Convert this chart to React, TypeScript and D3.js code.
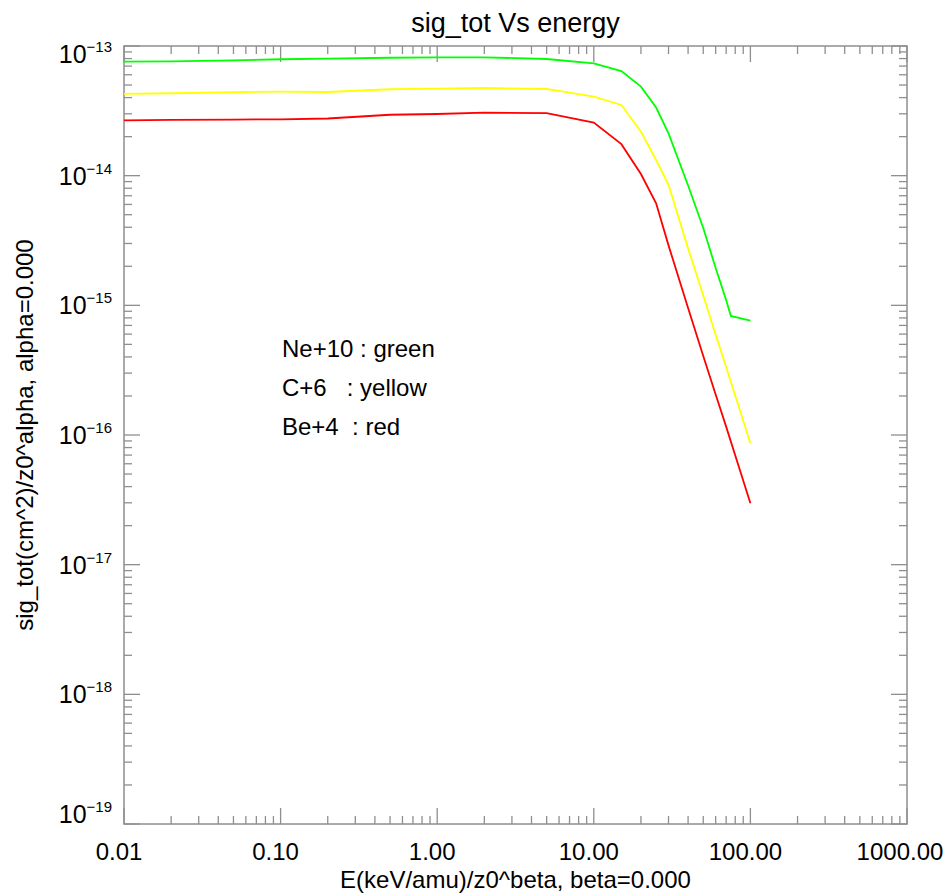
import React from "react";
import * as d3 from "d3";

// energies (keV/amu) and sig_tot (cm^2) for each ion
const energyNe = [0.01, 0.02, 0.05, 0.1, 0.2, 0.5, 1, 2, 5, 10, 15, 20, 25, 30, 40, 50, 60, 70, 75, 100];
const sigNe = [7.57e-14, 7.6e-14, 7.75e-14, 7.9e-14, 7.98e-14, 8.12e-14, 8.18e-14, 8.18e-14, 7.94e-14, 7.35e-14,
    6.41e-14, 4.86e-14, 3.35e-14, 2.12e-14, 8.4e-15, 3.95e-15, 1.94e-15, 1.1e-15, 8.28e-16, 7.62e-16];

const energyC = [0.01, 0.02, 0.05, 0.1, 0.2, 0.5, 1, 2, 5, 6, 10, 15, 20, 25, 30, 40, 50, 60, 70, 100];
const sigC = [4.27e-14, 4.32e-14, 4.4e-14, 4.45e-14, 4.42e-14, 4.64e-14, 4.69e-14, 4.75e-14, 4.66e-14, 4.5e-14,
    4.07e-14, 3.51e-14, 2.18e-14, 1.32e-14, 8.5e-15, 2.75e-15, 1.19e-15, 5.94e-16, 3.35e-16, 8.65e-17];

const energyBe = [0.01, 0.02, 0.05, 0.1, 0.2, 0.5, 1, 2, 5, 10, 15, 20, 25, 30, 40, 50, 60, 70, 100];
const sigBe = [2.67e-14, 2.69e-14, 2.71e-14, 2.72e-14, 2.76e-14, 2.95e-14, 2.99e-14, 3.06e-14, 3.04e-14, 2.57e-14,
    1.75e-14, 1.03e-14, 6.12e-15, 2.9e-15, 9.55e-16, 4.07e-16, 2.05e-16, 1.16e-16, 2.98e-17];

const xTickLabels = ["0.01", "0.10", "1.00", "10.00", "100.00", "1000.00"];
const legendLines = ["Ne+10 : green", "C+6   : yellow", "Be+4  : red"];

const series = [
    { x: energyNe, y: sigNe, color: "#00ff00" },
    { x: energyC, y: sigC, color: "#ffff00" },
    { x: energyBe, y: sigBe, color: "#ff0000" },
];

const W = 951;
const H = 895;
const left = 124, right = 907, top = 46, bottom = 824;
const font = "'Liberation Sans', Arial, sans-serif";
const axisColor = "#8f8f8f";

const App = () => {
    const x = d3.scaleLog().domain([0.01, 1000]).range([left, right]);
    const y = d3.scaleLog().domain([1e-19, 1e-13]).range([bottom, top]);

    const isMajor = (v: number) => Math.abs(Math.log10(v) - Math.round(Math.log10(v))) < 1e-9;
    const xTicks = x.ticks();
    const yTicks = y.ticks();

    const line = d3.line<[number, number]>()
        .x((d) => x(d[0]))
        .y((d) => y(d[1]));

    const xMajors = xTicks.filter(isMajor);
    const yMajors = yTicks.filter(isMajor);

    return (
        <svg width={W} height={H} style={{ position: "absolute", left: 0, top: 0, background: "#fff" }}
            fontFamily={font}>
            <rect x={0} y={0} width={W} height={H} fill="#fff" />
            <text x={(left + right) / 2} y={32} textAnchor="middle" fontSize={27} fill="#000">sig_tot Vs energy</text>

            {/* frame */}
            <rect x={left} y={top} width={right - left} height={bottom - top} fill="none"
                stroke={axisColor} strokeWidth={1.5} />

            {/* x ticks, bottom and top */}
            {xTicks.map((t, i) => {
                const len = isMajor(t) ? 16 : 8;
                return (
                    <g key={"xt" + i} stroke={axisColor} strokeWidth={1.3}>
                        <line x1={x(t)} x2={x(t)} y1={bottom} y2={bottom - len} />
                        <line x1={x(t)} x2={x(t)} y1={top} y2={top + len} />
                    </g>
                );
            })}
            {/* y ticks, left and right */}
            {yTicks.map((t, i) => {
                const len = isMajor(t) ? 16 : 8;
                return (
                    <g key={"yt" + i} stroke={axisColor} strokeWidth={1.3}>
                        <line x1={left} x2={left + len} y1={y(t)} y2={y(t)} />
                        <line x1={right} x2={right - len} y1={y(t)} y2={y(t)} />
                    </g>
                );
            })}

            {xMajors.map((t, i) => (
                <text key={"xl" + i} x={x(t) - (i === xMajors.length - 1 ? 7 : 5)} y={860}
                    textAnchor="middle" fontSize={24} fill="#000">
                    {xTickLabels[i]}
                </text>
            ))}

            {yMajors.map((t, i) => {
                const e = Math.round(Math.log10(t));
                let base = y(t) + 9;
                if (e === -13) base = y(t) + 17;
                if (e === -19) base = y(t) - 1;
                return (
                    <text key={"yl" + i} x={112} y={base} textAnchor="end" fontSize={25} fill="#000">
                        10<tspan fontSize={15} dy={-11}>{"\u2212" + Math.abs(e)}</tspan>
                    </text>
                );
            })}

            <text x={(left + right) / 2} y={888} textAnchor="middle" fontSize={24} fill="#000">
                E(keV/amu)/z0^beta, beta=0.000
            </text>
            <text transform={`translate(33, ${(top + bottom) / 2}) rotate(-90)`} textAnchor="middle"
                fontSize={24} fill="#000">
                sig_tot(cm^2)/z0^alpha, alpha=0.000
            </text>

            {series.map((s, i) => (
                <path key={"s" + i} d={line(s.x.map((v, j) => [v, s.y[j]] as [number, number])) || ""}
                    fill="none" stroke={s.color} strokeWidth={1.8} />
            ))}

            {legendLines.map((l, i) => (
                <text key={"lg" + i} x={282} y={357 + i * 39} fontSize={24} fill="#000"
                    style={{ whiteSpace: "pre" }}>
                    {l}
                </text>
            ))}
        </svg>
    );
};

export default App;
